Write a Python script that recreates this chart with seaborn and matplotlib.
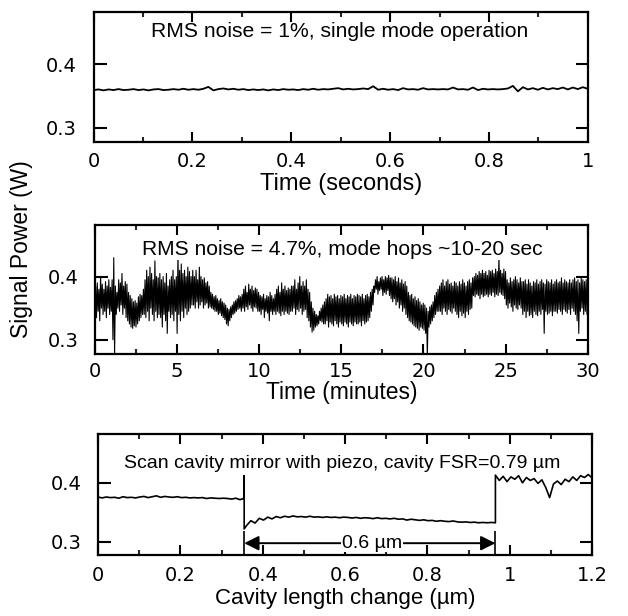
import numpy as np
import pandas as pd
import matplotlib
matplotlib.use("Agg")
import matplotlib.pyplot as plt
import seaborn as sns

# ---------------- DATA ----------------
# Panel 1: signal power (mW) over 1 second
p1_power_mw = [
    359.5, 360.5, 359, 360.5, 359.5, 361, 359.5, 360, 361, 359.5,
    360.5, 359, 360.5, 361, 359.5, 360, 361, 360, 361.5, 360,
    361, 360, 361.5, 364.5, 359, 361, 362, 360.5, 361.5, 360,
    361, 359.5, 360.5, 359.5, 360.5, 359, 360.5, 359.5, 361, 360,
    360.5, 359.5, 361, 360, 361.5, 360, 361, 360.5, 361.5, 362.5,
    360.5, 361.5, 360.5, 361, 362, 361, 365.5, 360, 361.5, 360,
    361, 359.5, 362.5, 360.5, 361, 360, 362.5, 360.5, 361, 360.5,
    361, 360.5, 363.5, 360.5, 361, 360, 363.5, 359.5, 361.5, 360.5,
    361, 360.5, 361, 362, 366, 357.5, 364, 360.5, 362.5, 360,
    363, 360.5, 362.5, 361, 363.5, 360.5, 363.5, 361, 364, 361.5,
]
p1_span = (0.0, 1.0)

# Panel 2: signal power (mW) over 30 minutes, high / low excursion per 0.1-min sample
p2_high_mw = [
    385, 390, 380, 400, 388, 380, 392, 385, 395, 383,
    395, 430, 385, 375, 395, 390, 405, 385, 392, 388,
    375, 370, 365, 360, 362, 358, 368, 372, 370, 380,
    395, 410, 400, 415, 405, 395, 425, 400, 398, 405,
    395, 400, 390, 405, 385, 395, 400, 410, 395, 400,
    440, 410, 420, 405, 410, 400, 415, 408, 400, 410,
    400, 410, 395, 415, 400, 395, 398, 390, 392, 385,
    375, 372, 368, 370, 365, 362, 365, 360, 358, 355,
    350, 348, 352, 355, 360, 362, 365, 370, 368, 372,
    380, 385, 375, 388, 380, 385, 378, 382, 380, 375,
    370, 368, 372, 365, 370, 368, 375, 370, 365, 372,
    380, 385, 375, 390, 380, 385, 378, 382, 380, 385,
    385, 395, 380, 390, 400, 385, 392, 385, 395, 380,
    375, 360, 350, 345, 340, 338, 345, 350, 355, 360,
    365, 372, 368, 370, 365, 372, 368, 370, 365, 370,
    368, 372, 365, 370, 368, 372, 365, 370, 368, 372,
    370, 368, 372, 365, 370, 372, 368, 375, 380, 385,
    395, 400, 392, 398, 400, 395, 400, 398, 402, 398,
    398, 395, 400, 392, 398, 390, 395, 388, 392, 385,
    375, 370, 372, 365, 368, 362, 365, 360, 355, 358,
    355, 350, 345, 352, 355, 360, 370, 375, 380, 385,
    390, 395, 385, 392, 395, 388, 390, 385, 392, 390,
    385, 392, 388, 395, 390, 385, 392, 395, 390, 398,
    400, 405, 402, 408, 405, 410, 405, 408, 402, 410,
    408, 410, 405, 412, 408, 430, 410, 405, 412, 408,
    395, 390, 398, 392, 395, 400, 395, 390, 398, 392,
    392, 395, 388, 395, 390, 385, 392, 390, 395, 388,
    392, 395, 390, 388, 395, 392, 390, 395, 388, 392,
    395, 390, 392, 398, 390, 395, 392, 390, 395, 390,
    395, 398, 392, 395, 390, 398, 395, 392, 395, 398,
]
p2_low_mw = [
    340, 335, 345, 330, 350, 340, 345, 335, 350, 340,
    345, 300, 275, 340, 350, 345, 355, 340, 350, 335,
    330, 325, 320, 318, 322, 320, 325, 330, 335, 340,
    340, 335, 345, 330, 350, 340, 330, 345, 335, 340,
    335, 320, 340, 330, 310, 345, 335, 340, 330, 345,
    310, 340, 330, 345, 335, 350, 340, 345, 350, 355,
    355, 350, 360, 350, 355, 360, 350, 355, 358, 350,
    352, 350, 348, 345, 345, 340, 342, 338, 335, 332,
    325, 322, 330, 335, 340, 342, 345, 348, 350, 345,
    350, 345, 352, 348, 355, 350, 345, 352, 350, 345,
    345, 340, 348, 335, 345, 342, 330, 345, 340, 345,
    340, 345, 342, 338, 345, 340, 345, 342, 340, 345,
    345, 350, 340, 348, 345, 350, 340, 345, 348, 335,
    330, 320, 312, 315, 320, 322, 325, 330, 328, 325,
    325, 330, 320, 328, 325, 322, 330, 325, 320, 328,
    325, 322, 328, 325, 320, 328, 325, 322, 328, 325,
    325, 328, 322, 330, 325, 328, 330, 335, 345, 355,
    375, 380, 372, 378, 380, 370, 375, 372, 378, 370,
    365, 360, 365, 355, 360, 350, 355, 345, 350, 340,
    335, 330, 328, 325, 322, 320, 318, 315, 320, 318,
    315, 310, 275, 320, 325, 330, 335, 340, 345, 345,
    345, 340, 350, 345, 340, 348, 345, 342, 350, 345,
    340, 335, 345, 338, 342, 335, 345, 340, 348, 350,
    370, 368, 372, 370, 365, 372, 368, 370, 372, 368,
    372, 370, 375, 368, 372, 370, 375, 372, 370, 365,
    355, 350, 358, 352, 345, 355, 350, 348, 355, 350,
    340, 345, 335, 345, 338, 340, 335, 345, 340, 338,
    345, 340, 348, 310, 345, 340, 342, 345, 338, 345,
    345, 342, 348, 345, 340, 348, 345, 342, 348, 340,
    350, 345, 340, 330, 310, 345, 350, 340, 345, 340,
]
p2_span = (0.0, 30.0)

# Panel 3: signal power (mW) vs cavity length change (um), three mode segments
p3_jumps_um = [0.355, 0.965]
p3_seg1_mw = [
    376, 374.5, 376, 375, 375.5, 374, 376.5, 375, 375.5, 374.5,
    376, 377, 375, 376.5, 378, 375.5, 377, 376, 375.5, 376.5,
    375, 375.5, 374.5, 375, 374.5, 375, 373.5, 374.5, 374, 373.5,
    374, 373.5, 372.5, 374, 371.5, 374,
]
p3_hop1_mw = [412, 322]
p3_seg2_mw = [
    328, 336, 332, 340, 337, 342, 339, 343, 341, 343.5,
    342, 344, 342.5, 343, 342, 343.5, 342, 342.5, 341.5, 342.5,
    341.5, 342, 341, 342, 341.5, 340.5, 341.5, 340, 341, 340.5,
    339.5, 341, 339.5, 340, 339, 340, 338.5, 339, 337, 338.5,
    337.5, 336.5, 337.5, 336, 336.5, 335, 336, 335, 334.5, 335.5,
    334, 333.5, 334, 333, 333.5, 332.5, 333, 332.5, 333, 332.5,
]
p3_seg3_mw = [
    413, 404, 411, 402, 410, 406, 412, 400, 409, 404,
    407, 399, 405, 392, 375, 398, 403, 397, 406, 402,
    410, 404, 412, 409, 414, 408,
]
p3_span = (0.0, 1.2)

# Labels / ticks
y_ticks = [0.3, 0.4]
y_ticklabels = ["0.3", "0.4"]
p1_xticks = [0, 0.2, 0.4, 0.6, 0.8, 1.0]
p1_xticklabels = ["0", "0.2", "0.4", "0.6", "0.8", "1"]
p2_xticks = [0, 5, 10, 15, 20, 25, 30]
p2_xticklabels = ["0", "5", "10", "15", "20", "25", "30"]
p3_xticks = [0, 0.2, 0.4, 0.6, 0.8, 1.0, 1.2]
p3_xticklabels = ["0", "0.2", "0.4", "0.6", "0.8", "1", "1.2"]
p1_xlabel = "Time (seconds)"
p2_xlabel = "Time (minutes)"
p3_xlabel = "Cavity length change (\u00b5m)"
ylabel = "Signal Power (W)"
p1_note = "RMS noise = 1%, single mode operation"
p2_note = "RMS noise = 4.7%, mode hops ~10-20 sec"
p3_note = "Scan cavity mirror with piezo, cavity FSR=0.79 \u00b5m"
arrow_label = "0.6 \u00b5m"
arrow_y = 0.298

# ---------------- BUILD ----------------
sns.set_theme(style="ticks")
plt.rcParams["font.family"] = ["Liberation Sans", "DejaVu Sans"]
plt.rcParams["text.color"] = "black"
plt.rcParams["axes.labelcolor"] = "black"

def frame(x, y):
    return pd.DataFrame({"x": x, "y": np.asarray(y, dtype=float) / 1000.0})

df1 = frame(np.linspace(p1_span[0], p1_span[1], len(p1_power_mw)), p1_power_mw)

# interleave low / high excursions so the trace renders as a dense band
n2 = len(p2_high_mw)
t2 = np.linspace(p2_span[0], p2_span[1], 2 * n2)
v2 = np.empty(2 * n2)
v2[0::2] = p2_low_mw
v2[1::2] = p2_high_mw
df2 = frame(t2, v2)

j1, j2 = p3_jumps_um
x3 = np.concatenate([
    np.linspace(p3_span[0], j1, len(p3_seg1_mw)),
    [j1] * len(p3_hop1_mw),
    np.linspace(j1 + 0.006, j2, len(p3_seg2_mw)),
    np.linspace(j2, p3_span[1], len(p3_seg3_mw)),
])
y3 = p3_seg1_mw + p3_hop1_mw + p3_seg2_mw + p3_seg3_mw
df3 = frame(x3, y3)

fig = plt.figure(figsize=(6.28, 6.16), dpi=100)
ax1 = fig.add_axes([0.149, 0.7695, 0.787, 0.211])
ax2 = fig.add_axes([0.151, 0.426, 0.785, 0.209])
ax3 = fig.add_axes([0.156, 0.099, 0.787, 0.196])

tick_font = {"family": ["DejaVu Sans"], "size": 14}

def style(ax, span, xticks, xticklabels, minor_step, xlabel, label_size, xpad, lpad):
    ax.set_xlim(*span)
    ax.set_ylim(0.278, 0.482)
    ax.set_xticks(xticks)
    ax.set_xticklabels(xticklabels, fontdict=tick_font)
    ax.set_xticks(np.arange(span[0], span[1] + 1e-9, minor_step), minor=True)
    ax.set_yticks(y_ticks)
    ax.set_yticklabels(y_ticklabels, fontdict=tick_font)
    ax.tick_params(axis="x", which="major", direction="in", length=7, width=1.5,
                   top=True, bottom=True, pad=xpad, colors="black")
    ax.tick_params(axis="x", which="minor", direction="in", length=3.5, width=1.5,
                   top=True, bottom=True)
    ax.tick_params(axis="y", which="major", direction="in", length=9, width=1.5,
                   left=True, right=True, pad=12, colors="black")
    for s in ax.spines.values():
        s.set_visible(True)
        s.set_linewidth(1.6)
        s.set_color("black")
    ax.set_xlabel(xlabel, fontsize=label_size, labelpad=lpad)
    ax.set_ylabel("")

sns.lineplot(data=df1, x="x", y="y", ax=ax1, color="black", linewidth=1.3,
             estimator=None, sort=False)
sns.lineplot(data=df2, x="x", y="y", ax=ax2, color="black", linewidth=0.8,
             estimator=None, sort=False)
sns.lineplot(data=df3, x="x", y="y", ax=ax3, color="black", linewidth=1.2,
             estimator=None, sort=False)

style(ax1, p1_span, p1_xticks, p1_xticklabels, 0.1, p1_xlabel, 17, 7, 2)
style(ax2, p2_span, p2_xticks, p2_xticklabels, 2.5, p2_xlabel, 16.5, 6, 0)
style(ax3, p3_span, p3_xticks, p3_xticklabels, 0.1, p3_xlabel, 16, 8, 2)

ax1.text(0.497, 0.85, p1_note, transform=ax1.transAxes, ha="center", va="center",
         fontsize=15.2)
ax2.text(0.503, 0.805, p2_note, transform=ax2.transAxes, ha="center", va="center",
         fontsize=15.1, bbox=dict(facecolor="white", edgecolor="none", pad=0.5))
ax3.text(0.494, 0.76, p3_note, transform=ax3.transAxes, ha="center", va="center",
         fontsize=14)

# FSR arrow
ax3.vlines([j1, j2], 0.278, arrow_y + 0.02, color="black", linewidth=1.2)
ax3.annotate("", xy=(j1, arrow_y), xytext=(j2, arrow_y),
             arrowprops=dict(arrowstyle="<|-|>", color="black", lw=1.4,
                             mutation_scale=22, shrinkA=0, shrinkB=0))
ax3.text((j1 + j2) / 2 + 0.005, arrow_y, arrow_label, ha="center", va="center",
         fontsize=14, bbox=dict(facecolor="white", edgecolor="none", pad=0.6))

fig.text(0.034, 0.596, ylabel, rotation=90, ha="center", va="center", fontsize=16.5)

fig.savefig("out.png", dpi=100, facecolor="white")
